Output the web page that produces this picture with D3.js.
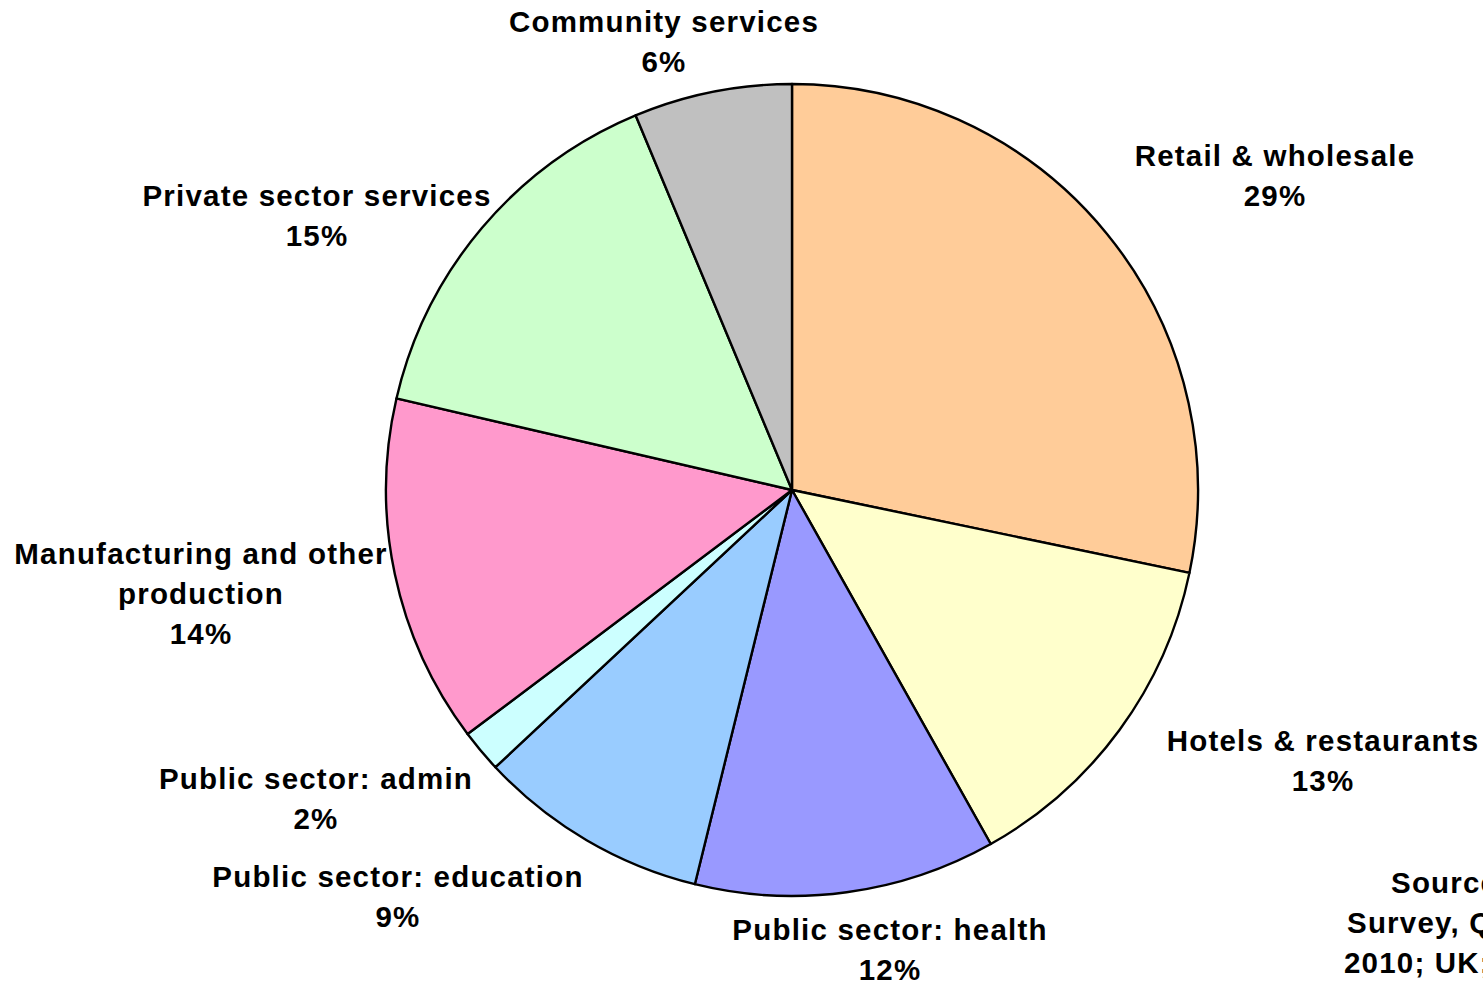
<!DOCTYPE html>
<html>
<head>
<meta charset="utf-8">
<script src="https://cdn.jsdelivr.net/npm/d3@7"></script>
<style>
  html, body { margin: 0; padding: 0; background: #fff; overflow: hidden; }
  svg { display: block; }
  text { font-family: "Liberation Sans", Arial, sans-serif; font-weight: bold; font-size: 29.5px; letter-spacing: 1.2px; fill: #000; }
</style>
</head>
<body>
<svg id="chart" width="1483" height="984"></svg>
<script>
// Data (clockwise from 12 o'clock)
const categories = [
  "Retail & wholesale",
  "Hotels & restaurants",
  "Public sector: health",
  "Public sector: education",
  "Public sector: admin",
  "Manufacturing and other production",
  "Private sector services",
  "Community services"
];
const shares = [28.3, 13.6, 12.0, 9.2, 1.7, 13.9, 15.1, 6.3];
const pctLabels = ["29%", "13%", "12%", "9%", "2%", "14%", "15%", "6%"];
const labelLines = [
  ["Retail & wholesale"],
  ["Hotels & restaurants"],
  ["Public sector: health"],
  ["Public sector: education"],
  ["Public sector: admin"],
  ["Manufacturing and other", "production"],
  ["Private sector services"],
  ["Community services"]
];
const colors = ["#FFCC99", "#FFFFCC", "#9999FF", "#99CCFF", "#CCFFFF", "#FF99CC", "#CCFFCC", "#C0C0C0"];
const sourceLines = ["Source: Labour Force", "Survey, Q4", "2010; UK; employees"];

// Layout
const cx = 792, cy = 490, R = 406;
const labelAnchor = [
  [1275, 166], [1323, 751], [890, 940], [398, 887],
  [316, 789], [201, 564], [317, 206], [664, 32]
];
const lineH = 40;

const svg = d3.select("#chart");
const g = svg.append("g").attr("transform", `translate(${cx},${cy})`);

const pie = d3.pie().sort(null).value(d => d)(shares);
const arc = d3.arc().innerRadius(0).outerRadius(R);

g.selectAll("path.slice")
  .data(pie)
  .join("path")
  .attr("class", "slice")
  .attr("d", arc)
  .attr("fill", (d, i) => colors[i])
  .attr("stroke", "#000")
  .attr("stroke-width", 2.4)
  .attr("stroke-linejoin", "round");

const labels = svg.append("g").selectAll("text.lbl")
  .data(categories)
  .join("text")
  .attr("class", "lbl")
  .attr("text-anchor", "middle")
  .attr("x", (d, i) => labelAnchor[i][0])
  .attr("y", (d, i) => labelAnchor[i][1]);

labels.each(function(d, i) {
  const t = d3.select(this);
  const lines = labelLines[i].concat([pctLabels[i]]);
  lines.forEach((ln, k) => {
    t.append("tspan")
      .attr("x", labelAnchor[i][0])
      .attr("y", labelAnchor[i][1] + k * lineH)
      .text(ln);
  });
});

const sourceX = [1391, 1347, 1344];
svg.append("g").selectAll("text.src")
  .data(sourceLines)
  .join("text")
  .attr("class", "src")
  .attr("text-anchor", "start")
  .attr("x", (d, i) => sourceX[i])
  .attr("y", (d, i) => 893 + i * lineH)
  .text(d => d);
</script>
</body>
</html>
